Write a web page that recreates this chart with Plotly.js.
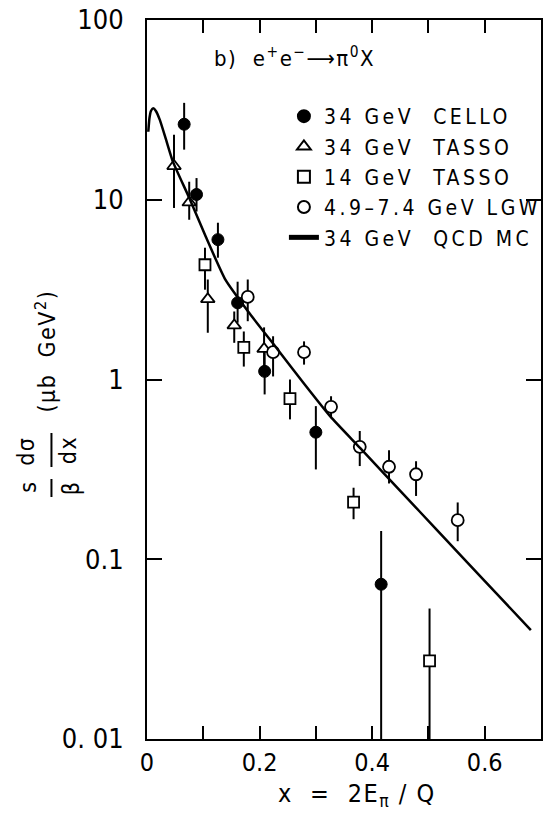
<!DOCTYPE html>
<html>
<head>
<meta charset="utf-8">
<script src="https://cdn.plot.ly/plotly-3.0.1.min.js"></script>
<style>
html,body{margin:0;padding:0;background:#fff;}
#chart{width:548px;height:820px;}
.legendtext{letter-spacing:3.5px;}
.annotation-text{letter-spacing:1.5px;}
</style>
</head>
<body>
<div id="chart"></div>
<script>
// ---- data ----
// 34 GeV CELLO (filled circles)
const celloX  = [0.066, 0.088, 0.126, 0.161, 0.209, 0.300, 0.416];
const celloY  = [26.3, 10.7, 6.0, 2.67, 1.11, 0.509, 0.0726];
const celloHi = [34.6, 13.2, 7.45, 3.5, 1.56, 0.711, 0.1436];
const celloLo = [19.0, 8.6, 4.76, 2.07, 0.826, 0.316, 0.003];

// 34 GeV TASSO (open triangles)
const tasso34X  = [0.048, 0.075, 0.108, 0.155, 0.208];
const tasso34Y  = [15.4, 9.66, 2.80, 2.0, 1.48];
const tasso34Hi = [23.0, 12.6, 3.6, 2.39, 1.95];
const tasso34Lo = [9.0, 7.74, 1.82, 1.6, 1.04];

// 14 GeV TASSO (open squares)
const tasso14X  = [0.103, 0.172, 0.254, 0.367, 0.502];
const tasso14Y  = [4.35, 1.51, 0.782, 0.208, 0.0272];
const tasso14Hi = [5.41, 1.85, 1.0, 0.25, 0.0532];
const tasso14Lo = [3.16, 1.18, 0.6, 0.167, 0.003];

// 4.9-7.4 GeV LGW (open circles)
const lgwX  = [0.179, 0.224, 0.279, 0.327, 0.378, 0.430, 0.478, 0.552];
const lgwY  = [2.88, 1.42, 1.42, 0.705, 0.422, 0.327, 0.297, 0.165];
const lgwHi = [3.6, 1.74, 1.63, 0.807, 0.517, 0.404, 0.351, 0.207];
const lgwLo = [2.11, 1.04, 1.21, 0.612, 0.33, 0.264, 0.225, 0.126];

// 34 GeV QCD MC (curve)
const mcX = [0.0023, 0.0044, 0.007, 0.011, 0.0158, 0.0228, 0.034, 0.046, 0.0753, 0.1045, 0.1395, 0.180, 0.2328, 0.2795, 0.326, 0.3785, 0.4545, 0.5128, 0.571, 0.6295, 0.682];
const mcY = [23.9, 28.5, 31.2, 32.3, 31.2, 27.8, 21.5, 16.3, 10.2, 6.22, 3.58, 2.38, 1.46, 0.944, 0.621, 0.416, 0.232, 0.148, 0.0946, 0.0604, 0.0403];

const seriesNames = ['34 GeV  CELLO', '34 GeV  TASSO', '14 GeV  TASSO', '4.9–7.4 GeV LGW', '34 GeV  QCD MC'];

const xTickVals = [0, 0.1, 0.2, 0.3, 0.4, 0.5, 0.6, 0.7];
const xTickText = ['0', '', '0.2', '', '0.4', '', '0.6', ''];
const yTickVals = [0.01, 0.1, 1, 10, 100];
const yTickText = ['0. 01', '0.1', '1', '10', '100'];

// ---- helpers ----
function errBar(y, hi, lo){
  return {type:'data', symmetric:false, array:y.map((v,i)=>hi[i]-v), arrayminus:y.map((v,i)=>v-lo[i]),
          color:'#000', thickness:2, width:0};
}

const FONT_TICK = 'Liberation Sans Narrow, DejaVu Sans Condensed, Arial Narrow, sans-serif';
const FONT_TXT = 'DejaVu Sans Condensed, Liberation Sans Narrow, sans-serif';

const traces = [
  {x:celloX, y:celloY, name:seriesNames[0], type:'scatter', mode:'markers',
   marker:{symbol:'circle', size:12, color:'#000', line:{color:'#000', width:1}},
   error_y:errBar(celloY, celloHi, celloLo)},
  {x:tasso34X, y:tasso34Y, name:seriesNames[1], type:'scatter', mode:'markers',
   marker:{symbol:'triangle-up', size:12, color:'#fff', line:{color:'#000', width:1.8}},
   error_y:errBar(tasso34Y, tasso34Hi, tasso34Lo)},
  {x:tasso14X, y:tasso14Y, name:seriesNames[2], type:'scatter', mode:'markers',
   marker:{symbol:'square', size:11, color:'#fff', line:{color:'#000', width:1.8}},
   error_y:errBar(tasso14Y, tasso14Hi, tasso14Lo)},
  {x:lgwX, y:lgwY, name:seriesNames[3], type:'scatter', mode:'markers',
   marker:{symbol:'circle', size:12, color:'#fff', line:{color:'#000', width:1.8}},
   error_y:errBar(lgwY, lgwHi, lgwLo)},
  {x:mcX, y:mcY, name:seriesNames[4], type:'scatter', mode:'lines',
   line:{color:'#000', width:2.5, shape:'spline', smoothing:0.5}}
];

const L = 147, R = 547, T = 20, B = 739;
function px(x){ return (x - L)/(R - L); }
function py(y){ return (B - y)/(B - T); }

const annFont = {family: FONT_TXT, size: 23, color:'#000'};
function yTitlePart(text, cx, cy){
  return {text:text, x:px(cx), y:py(cy), xref:'paper', yref:'paper', xanchor:'center', yanchor:'middle',
          textangle:-90, showarrow:false, font:annFont};
}
const layout = {
  width:548, height:820,
  margin:{l:L, r:548-R, t:T, b:820-B, pad:0},
  paper_bgcolor:'#fff', plot_bgcolor:'#fff',
  showlegend:true,
  legend:{x:px(286), y:py(96), xanchor:'left', yanchor:'top', xref:'paper', yref:'paper',
          bgcolor:'rgba(0,0,0,0)', borderwidth:0,
          font:{family:FONT_TXT, size:21, color:'#000'}, itemsizing:'constant', tracegroupgap:0},
  xaxis:{range:[0,0.7], showgrid:false, zeroline:false, showline:true, linecolor:'#000', linewidth:2,
         mirror:'ticks', ticks:'inside', ticklen:13, tickwidth:2, tickcolor:'#000',
         tickmode:'array', tickvals:xTickVals, ticktext:xTickText, ticklabelstandoff:0,
         tickfont:{family:FONT_TICK, size:25, color:'#000'}},
  yaxis:{type:'log', range:[-2,2], showgrid:false, zeroline:false, showline:true, linecolor:'#000', linewidth:2,
         mirror:'ticks', ticks:'inside', ticklen:15, tickwidth:2, tickcolor:'#000',
         tickmode:'array', tickvals:yTickVals, ticktext:yTickText, ticklabelstandoff:16,
         tickfont:{family:FONT_TICK, size:27, color:'#000'}},
  annotations:[
    {text:'b)  e<sup>+</sup>e<sup>−</sup>⟶π<sup>0</sup>X', x:px(213), y:py(57), xref:'paper', yref:'paper',
     xanchor:'left', yanchor:'middle', showarrow:false, font:{family:FONT_TXT, size:22, color:'#000'}},
    {text:'x  =  2E<sub>π</sub> / Q', x:px(360), y:py(795), xref:'paper', yref:'paper',
     xanchor:'center', yanchor:'middle', showarrow:false, font:{family:FONT_TICK, size:25, color:'#000'}},
    yTitlePart('s', 26, 487),
    yTitlePart('β', 70, 488),
    yTitlePart('dσ', 24, 451),
    yTitlePart('dx', 67, 450),
    yTitlePart('(μb  GeV<sup>2</sup>)', 44, 351)
  ],
  shapes:[
    {type:'line', xref:'paper', yref:'paper', x0:px(50), x1:px(50), y0:py(479), y1:py(497), line:{color:'#000', width:2}},
    {type:'line', xref:'paper', yref:'paper', x0:px(50), x1:px(50), y0:py(433), y1:py(467), line:{color:'#000', width:2}}
  ]
};

Plotly.newPlot('chart', traces, layout, {displayModeBar:false, staticPlot:true});
</script>
</body>
</html>
